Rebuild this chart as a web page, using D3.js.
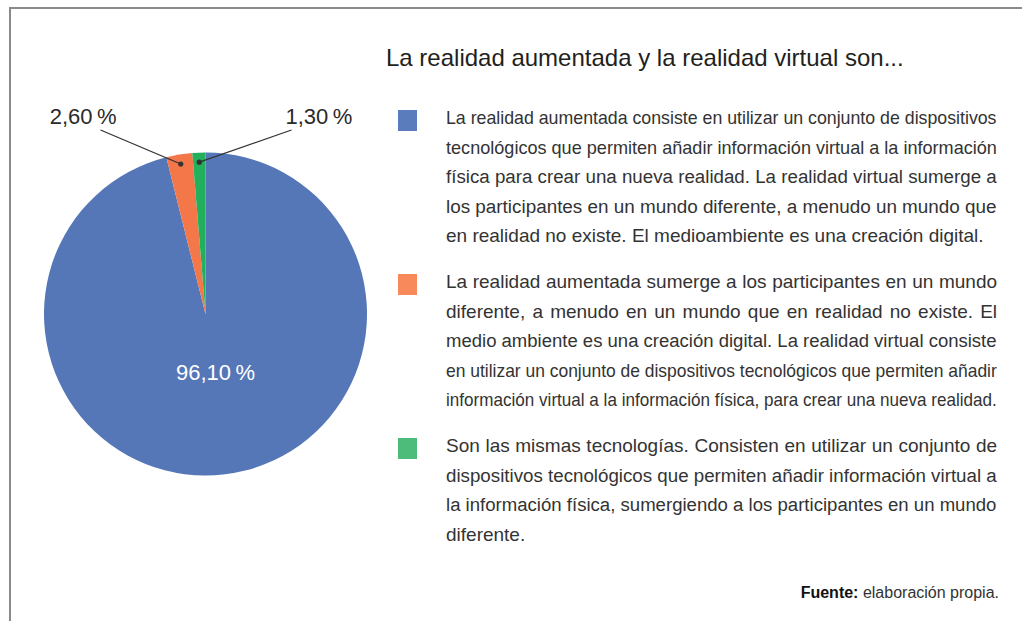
<!DOCTYPE html>
<html>
<head>
<meta charset="utf-8">
<script src="https://cdn.jsdelivr.net/npm/d3@7"></script>
<style>
  body { margin: 0; background: #fff; }
  svg { display: block; }
</style>
</head>
<body>
<svg id="chart"></svg>
<script>
// data
const sliceNames = ["A", "B", "C"];
const sliceValues = [96.1, 2.6, 1.3];
const sliceLabels = ["96,10\u2009%", "2,60\u2009%", "1,30\u2009%"];
const pieColors = ["#5577b8", "#f37748", "#22b05c"];
const legendColors = ["#5a7cbd", "#f7895a", "#4dbb7a"];
const titleText = "La realidad aumentada y la realidad virtual son...";
const legendText = [
    ["La realidad aumentada consiste en utilizar un conjunto de dispositivos",
     "tecnológicos que permiten añadir información virtual a la información",
     "física para crear una nueva realidad. La realidad virtual sumerge a",
     "los participantes en un mundo diferente, a menudo un mundo que",
     "en realidad no existe. El medioambiente es una creación digital."],
    ["La realidad aumentada sumerge a los participantes en un mundo",
     "diferente, a menudo en un mundo que en realidad no existe. El",
     "medio ambiente es una creación digital. La realidad virtual consiste",
     "en utilizar un conjunto de dispositivos tecnológicos que permiten añadir",
     "información virtual a la información física, para crear una nueva realidad."],
    ["Son las mismas tecnologías. Consisten en utilizar un conjunto de",
     "dispositivos tecnológicos que permiten añadir información virtual a",
     "la información física, sumergiendo a los participantes en un mundo",
     "diferente."]
];
const sourceBold = "Fuente:";
const sourceText = " elaboración propia.";

const width = 1022, height = 621;
const svg = d3.select("#chart").attr("width", width).attr("height", height);

// frame
svg.append("path")
    .attr("d", "M10," + height + "V8H" + width)
    .attr("fill", "none")
    .attr("stroke", "#8a8a8a")
    .attr("stroke-width", 2);

// pie
const cx = 205.5, cy = 314, radius = 161.5;
const data = sliceNames.map((n, i) => ({ name: n, value: sliceValues[i], label: sliceLabels[i] }));
const pie = d3.pie().sort(null).value(d => d.value);
const arcs = pie(data);
const arc = d3.arc().innerRadius(0).outerRadius(radius);
const dotArc = d3.arc().innerRadius(152).outerRadius(152);

const g = svg.append("g").attr("transform", `translate(${cx},${cy})`);
g.selectAll("path")
    .data(arcs)
    .enter().append("path")
    .attr("d", arc)
    .attr("fill", (d, i) => pieColors[i]);

// label for the big slice
g.append("text")
    .attr("x", 10)
    .attr("y", 66)
    .attr("text-anchor", "middle")
    .attr("fill", "#fff")
    .style("font", "300 22px 'Liberation Sans', Arial, sans-serif")
    .text(arcs[0].data.label);

// small slices with leader lines
const leader = [
    null,
    { lx: -105, ly: -184, tx: -89, ty: -190, anchor: "end" },
    { lx: 86, ly: -184, tx: 80, ty: -190, anchor: "start" }
];
arcs.forEach((d, i) => {
    if (!leader[i]) return;
    const c = dotArc.centroid(d);
    const L = leader[i];
    g.append("line")
        .attr("x1", L.lx).attr("y1", L.ly)
        .attr("x2", c[0]).attr("y2", c[1])
        .attr("stroke", "#333")
        .attr("stroke-width", 1.3);
    g.append("circle")
        .attr("cx", c[0]).attr("cy", c[1]).attr("r", 2.6)
        .attr("fill", "#333");
    g.append("text")
        .attr("x", L.tx).attr("y", L.ty)
        .attr("text-anchor", L.anchor)
        .attr("fill", "#2a2a2a")
        .style("font", "300 22px 'Liberation Sans', Arial, sans-serif")
        .text(d.data.label);
});

// title
svg.append("text")
    .attr("x", 386)
    .attr("y", 66)
    .attr("fill", "#231f20")
    .style("font", "24px 'Liberation Sans', Arial, sans-serif")
    .text(titleText);

// legend with justified text
const textX = 446, textW = 551, lineH = 29.6;
const blockTops = [124, 288, 452];
const bodyFont = "19px 'Liberation Sans', Arial, sans-serif";

legendText.forEach((lines, b) => {
    svg.append("rect")
        .attr("x", 398).attr("y", blockTops[b] - 14)
        .attr("width", 19).attr("height", 21)
        .attr("fill", legendColors[b]);
    lines.forEach((line, j) => {
        const y = blockTops[b] + j * lineH;
        const isLast = j === lines.length - 1;
        const t = svg.append("text")
            .attr("transform", `translate(${textX},${y})`)
            .attr("fill", "#333")
            .style("font", bodyFont)
            .text(line);
        const w = t.node().getComputedTextLength();
        if (w > textW) {
            // squeeze long lines horizontally, like the condensed lines in the print
            t.attr("transform", `translate(${textX},${y}) scale(${textW / w},1)`);
        } else if (!isLast) {
            const words = line.split(" ");
            const extra = (textW - w) / (words.length - 1);
            t.text(null);
            words.forEach((word, k) => {
                t.append("tspan")
                    .attr("dx", k ? extra : 0)
                    .text(k ? " " + word : word);
            });
        }
    });
});

// source
const src = svg.append("text")
    .attr("x", 999).attr("y", 598)
    .attr("text-anchor", "end")
    .attr("fill", "#333")
    .style("font", "16px 'Liberation Sans', Arial, sans-serif");
src.append("tspan").attr("font-weight", "bold").attr("fill", "#111").text(sourceBold);
src.append("tspan").text(sourceText);
</script>
</body>
</html>
